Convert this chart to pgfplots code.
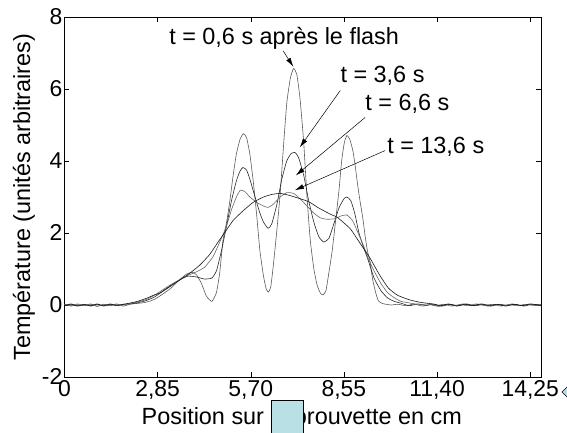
\documentclass[border=0pt]{standalone}
\usepackage{fontspec}
\setmainfont{Liberation Sans}
\usepackage{pgfplots}
\pgfplotsset{compat=1.18}
\usetikzlibrary{arrows.meta}
\definecolor{boxblue}{RGB}{185,224,228}
\begin{document}
\begin{tikzpicture}[x=1bp,y=1bp]
\begin{axis}[at={(0,0)}, anchor=south west, scale only axis,
  width=476.5bp, height=360bp,
  xmin=0, xmax=14.58, ymin=-2, ymax=8,
  xtick={0,2.85,5.7,8.55,11.4,14.25},
  xticklabels={0,{2,85},{5,70},{8,55},{11,40},{14,25}},
  ytick={-2,0,2,4,6,8},
  tick align=inside, major tick length=5bp,
  /pgf/number format/assume math mode=true,
  tick label style={font=\fontsize{23}{27}\selectfont},
  yticklabel style={inner sep=2bp},
  label style={font=\fontsize{23.5}{28}\selectfont},
  xlabel={Position sur l'éprouvette en cm},
  ylabel={Température (unités arbitraires)},
  xlabel style={at={(axis description cs:0.498,-0.114)}, anchor=center},
  ylabel style={at={(axis description cs:-0.085,0.5)}, anchor=center},
  axis line style={black, line width=0.6pt},
  every tick/.style={black, line width=0.5pt},
  every axis plot/.append style={line width=0.6pt, smooth, tension=0.3},
]
% t = 0.6 s
\addplot[color=black!65] coordinates {
(0,0.02) (0.2,-0.03) (0.4,0.01) (0.6,-0.02) (0.8,0.03) (1.0,-0.04) (1.2,0.02) (1.4,-0.01) (1.6,0.03) (1.8,-0.03) (2.0,0.02) (2.18,0.04) (2.39,0.06) (2.59,0.1) (2.80,0.18) (3.00,0.3) (3.26,0.47) (3.52,0.7) (3.72,0.85) (3.90,0.91) (4.03,0.85) (4.19,0.6) (4.34,0.25) (4.51,0.1) (4.65,0.35) (4.75,0.9) (4.85,1.8) (4.96,2.3) (5.06,2.9) (5.16,3.6) (5.26,4.2) (5.37,4.6) (5.47,4.76) (5.57,4.65) (5.67,4.2) (5.78,3.4) (5.88,2.5) (5.98,1.5) (6.09,0.8) (6.17,0.45) (6.24,0.36) (6.31,0.5) (6.39,1.1) (6.50,2.1) (6.60,3.1) (6.70,4.4) (6.80,5.6) (6.91,6.3) (7.01,6.57) (7.11,6.4) (7.21,5.7) (7.32,4.5) (7.42,3.0) (7.52,1.8) (7.63,1.0) (7.73,0.55) (7.83,0.33) (7.91,0.28) (8.00,0.4) (8.09,0.9) (8.19,1.5) (8.29,2.3) (8.40,3.2) (8.48,4.0) (8.56,4.5) (8.64,4.71) (8.73,4.6) (8.82,4.3) (8.89,3.9) (8.96,3.4) (9.04,2.9) (9.13,2.4) (9.20,1.9) (9.27,1.5) (9.35,1.2) (9.43,0.7) (9.52,0.35) (9.60,0.12) (9.73,0.04) (9.99,0.0) (10.2,0.02) (10.45,-0.02) (10.7,0.03) (10.95,-0.03) (11.2,0.01) (11.45,-0.04) (11.7,0.02) (11.95,-0.02) (12.2,0.03) (12.45,-0.01) (12.7,0.02) (12.95,-0.03) (13.2,0.01) (13.45,-0.02) (13.7,0.03) (13.95,-0.02) (14.2,0.01) (14.45,-0.01) (14.58,0.01)
};
% t = 3.6 s
\addplot[color=black!85] coordinates {
(0,-0.01) (0.2,0.03) (0.4,-0.02) (0.6,0.02) (0.8,-0.03) (1.0,0.02) (1.2,-0.02) (1.4,0.03) (1.6,-0.01) (1.8,0.02) (2.0,0.03) (2.23,0.06) (2.49,0.12) (2.75,0.22) (3.00,0.38) (3.26,0.55) (3.52,0.7) (3.77,0.8) (4.03,0.78) (4.29,0.72) (4.51,0.75) (4.65,0.95) (4.80,1.5) (4.96,2.2) (5.11,2.9) (5.26,3.45) (5.37,3.72) (5.46,3.82) (5.57,3.75) (5.67,3.5) (5.83,3.0) (5.98,2.55) (6.09,2.3) (6.23,2.13) (6.34,2.25) (6.50,2.8) (6.65,3.5) (6.80,4.0) (6.93,4.2) (7.05,4.24) (7.16,4.1) (7.32,3.6) (7.47,2.9) (7.63,2.3) (7.78,1.9) (7.93,1.75) (8.09,1.85) (8.24,2.25) (8.40,2.7) (8.55,2.95) (8.64,3.0) (8.76,2.9) (8.88,2.55) (9.01,2.0) (9.17,1.55) (9.29,1.25) (9.47,0.75) (9.68,0.4) (9.88,0.2) (10.09,0.1) (10.30,0.05) (10.55,-0.02) (10.8,0.03) (11.05,-0.01) (11.3,0.02) (11.55,-0.03) (11.8,0.02) (12.05,-0.02) (12.3,0.03) (12.55,-0.02) (12.8,0.01) (13.05,-0.03) (13.3,0.02) (13.55,-0.01) (13.8,0.02) (14.05,-0.03) (14.3,0.02) (14.58,0.0)
};
% t = 6.6 s
\addplot[color=black!60] coordinates {
(0,0.01) (0.2,-0.02) (0.4,0.03) (0.6,-0.01) (0.8,0.02) (1.0,-0.03) (1.2,0.01) (1.4,-0.02) (1.6,0.02) (1.8,0.0) (2.0,0.04) (2.23,0.08) (2.49,0.15) (2.75,0.27) (3.00,0.42) (3.26,0.57) (3.52,0.7) (3.77,0.82) (4.03,0.92) (4.29,1.05) (4.55,1.35) (4.75,1.75) (4.96,2.2) (5.11,2.65) (5.26,3.0) (5.38,3.19) (5.52,3.15) (5.67,3.0) (5.88,2.85) (6.09,2.75) (6.23,2.71) (6.39,2.8) (6.60,3.0) (6.80,3.12) (7.01,3.1) (7.21,2.95) (7.42,2.75) (7.63,2.55) (7.83,2.42) (8.04,2.38) (8.28,2.4) (8.45,2.47) (8.64,2.5) (8.81,2.35) (8.96,2.05) (9.17,1.6) (9.29,1.3) (9.47,0.95) (9.68,0.6) (9.88,0.35) (10.09,0.2) (10.30,0.1) (10.60,0.05) (10.85,0.0) (11.1,0.03) (11.35,-0.02) (11.6,0.02) (11.85,-0.03) (12.1,0.01) (12.35,-0.02) (12.6,0.03) (12.85,-0.01) (13.1,0.02) (13.35,-0.03) (13.6,0.01) (13.85,-0.02) (14.1,0.02) (14.35,-0.01) (14.58,-0.02)
};
% t = 13.6 s
\addplot[color=black!90] coordinates {
(0,-0.02) (0.2,0.02) (0.4,-0.03) (0.6,0.01) (0.8,-0.02) (1.0,0.03) (1.2,-0.03) (1.4,0.02) (1.6,-0.02) (1.75,0.01) (1.98,0.05) (2.23,0.1) (2.49,0.18) (2.75,0.28) (2.92,0.33) (3.21,0.5) (3.54,0.7) (3.83,0.88) (4.13,1.1) (4.44,1.4) (4.70,1.75) (4.91,2.02) (5.16,2.35) (5.47,2.62) (5.77,2.85) (6.09,3.0) (6.34,3.07) (6.60,3.1) (6.86,3.05) (7.11,2.98) (7.32,2.92) (7.51,2.85) (7.73,2.72) (7.93,2.62) (8.14,2.52) (8.34,2.44) (8.55,2.28) (8.76,2.1) (9.04,1.72) (9.35,1.3) (9.63,0.85) (9.91,0.47) (10.19,0.27) (10.57,0.14) (10.91,0.07) (11.28,0.03) (11.5,-0.02) (11.75,0.03) (12.0,-0.03) (12.25,0.02) (12.5,-0.02) (12.75,0.03) (13.0,-0.01) (13.25,0.02) (13.5,-0.03) (13.75,0.02) (14.0,-0.02) (14.25,0.03) (14.58,-0.01)
};
\node[font=\fontsize{23.5}{28}\selectfont, anchor=center] at (axis cs:6.72,7.42) {t = 0,6 s après le flash};
\draw[-{Latex[length=9bp,width=5bp]}, line width=0.5pt] (axis cs:6.69,7.06) -- (axis cs:7.0,6.62);
\node[font=\fontsize{23.5}{28}\selectfont, anchor=west, inner sep=0pt] at (axis cs:8.44,6.37) {t = 3,6 s};
\draw[-{Latex[length=9bp,width=5bp]}, line width=0.5pt] (axis cs:8.44,5.96) -- (axis cs:7.20,4.38);
\node[font=\fontsize{23.5}{28}\selectfont, anchor=west, inner sep=0pt] at (axis cs:9.20,5.6) {t = 6,6 s};
\draw[-{Latex[length=9bp,width=5bp]}, line width=0.5pt] (axis cs:9.20,5.21) -- (axis cs:7.08,3.6);
\node[font=\fontsize{23.5}{28}\selectfont, anchor=west, inner sep=0pt] at (axis cs:9.87,4.38) {t = 13,6 s};
\draw[-{Latex[length=9bp,width=5bp]}, line width=0.5pt] (axis cs:9.81,4.29) -- (axis cs:7.05,3.19);
\end{axis}
\pgfresetboundingbox
\path[use as bounding box] (-64.5,-56) rectangle (502.5,377);
\draw[fill=boxblue, line width=0.8pt] (206.5,-23) rectangle (238.5,-70);
\draw[fill=boxblue, line width=0.6pt] (497.5,-15) -- (507.5,-5) -- (517.5,-15) -- (507.5,-25) -- cycle;
\end{tikzpicture}
\end{document}
